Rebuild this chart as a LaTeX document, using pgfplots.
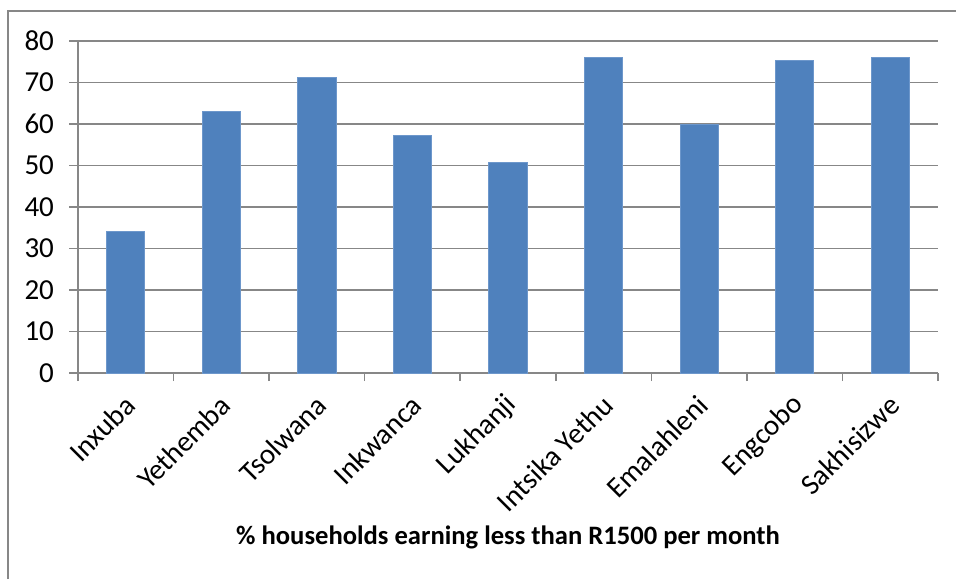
\documentclass[border=0pt]{standalone}
\usepackage{pgfplots}
\pgfplotsset{compat=1.18}
\usepackage{fontspec}
\setmainfont{Carlito}
\definecolor{barblue}{HTML}{4F81BD}
\definecolor{baredge}{HTML}{6D97CB}
\definecolor{gridgray}{HTML}{878787}
\begin{document}
\begin{tikzpicture}
\useasboundingbox (0,0) rectangle (478pt,289.5pt);
\draw[gridgray, line width=0.8pt] (4pt,0) -- (4pt,284pt) -- (478pt,284pt);
\begin{axis}[
  at={(39pt,103pt)}, anchor=south west,
  scale only axis, width=430pt, height=166pt,
  xmin=-0.5, xmax=8.5, ymin=0, ymax=80,
  axis x line*=bottom, axis y line*=left,
  axis line style={gridgray, line width=0.8pt},
  ytick={0,10,...,80},
  ymajorgrids, grid style={gridgray, line width=0.8pt},
  xtick={0,...,8},
  xticklabels={Inxuba,Yethemba,Tsolwana,Inkwanca,Lukhanji,Intsika Yethu,Emalahleni,Engcobo,Sakhisizwe},
  minor xtick={-0.5,0.5,...,8.5},
  major x tick style={draw=none},
  minor x tick style={gridgray, line width=0.8pt},
  major y tick style={gridgray, line width=0.8pt},
  tick align=outside, major tick length=4.5pt, minor tick length=4pt,
  every tick label/.append style={font=\fontsize{14.5}{16}\selectfont, text=black},
  /pgf/number format/assume math mode=true,
  yticklabel style={xshift=-4pt},
  xticklabel style={rotate=45, anchor=east, yshift=-8pt, xshift=-1.5pt},
  clip=false,
]
\addplot[ybar, bar width=0.4, fill=barblue, draw=baredge, line width=0.5pt] coordinates {
(0,34.0) (1,63.1) (2,71.1) (3,57.3) (4,50.7) (5,76.1) (6,60.0) (7,75.4) (8,76.0)
};
\end{axis}
\node[font=\fontsize{13.3}{15}\selectfont\bfseries] at (254pt,21pt) {\% households earning less than R1500 per month};
\end{tikzpicture}
\end{document}
